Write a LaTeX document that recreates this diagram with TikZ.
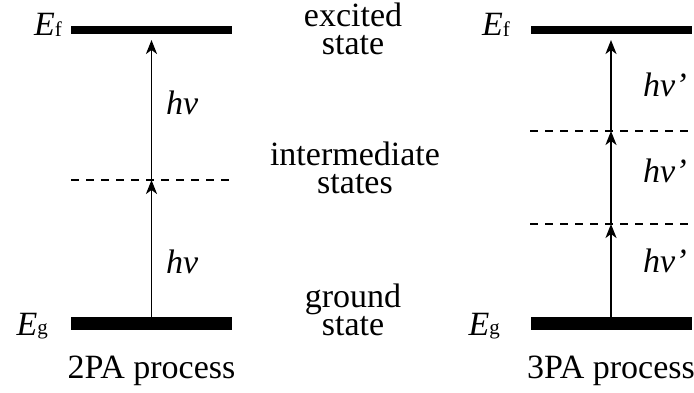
\documentclass[tikz,border=0pt]{standalone}
\usepackage{fontspec}
\setmainfont{Liberation Serif}
\usetikzlibrary{arrows.meta}
\newcommand\Elabel[2]{\textit{E}\raisebox{#2}{\fontsize{21}{21}\selectfont #1}}
\begin{document}
\begin{tikzpicture}[x=1pt,y=-1pt,
  txt/.style={inner sep=0pt, font=\fontsize{34}{28}\selectfont},
  topbar/.style={line width=8pt},
  gndbar/.style={line width=13pt},
  virt/.style={line width=1.4pt, dash pattern=on 8pt off 7pt},
  photon/.style={line width=1.7pt, -{Stealth[length=14pt,width=11pt,inset=4pt]}}]
\useasboundingbox (0,0) rectangle (694,393);
% ---- 2PA ----
\draw[topbar] (71,30) -- (232,30);
\draw[gndbar] (71,323.5) -- (232,323.5);
\draw[virt] (71,180) -- (230,180);
\coordinate (Lg) at (151.5,317);
\coordinate (Lm) at (151.5,180);
\coordinate (Lf) at (151.5,40);
\draw[photon] (Lg) -- (Lm);
\draw[photon] (Lm) -- (Lf);
\node[txt, anchor=base east] (LEf) at (62,36) {\Elabel{f}{-1pt}};
\node[txt, anchor=base east] (LEg) at (48,335) {\Elabel{g}{1pt}};
\node[txt, anchor=base west] (Lhv1) at (166,115) {\textit{hv}};
\node[txt, anchor=base west] (Lhv2) at (166,273) {\textit{hv}};
\node[txt, anchor=base] (L2PA) at (151.5,378) {2PA process};
% ---- middle ----
\node[txt, anchor=base] (exc) at (353,27) {\begin{tabular}[t]{@{}c@{}}excited\\state\end{tabular}};
\node[txt, anchor=base] (inter) at (355,166) {\begin{tabular}[t]{@{}c@{}}intermediate\\states\end{tabular}};
\node[txt, anchor=base] (gnd) at (353,307) {\begin{tabular}[t]{@{}c@{}}ground\\state\end{tabular}};
% ---- 3PA ----
\draw[topbar] (531,30) -- (692,30);
\draw[gndbar] (531,323.5) -- (692,323.5);
\draw[virt] (530,131) -- (690,131);
\draw[virt] (530,224) -- (690,224);
\coordinate (Rg) at (611,317);
\coordinate (Rm1) at (611,224);
\coordinate (Rm2) at (611,131);
\coordinate (Rf) at (611,40);
\draw[photon] (Rg) -- (Rm1);
\draw[photon] (Rm1) -- (Rm2);
\draw[photon] (Rm2) -- (Rf);
\node[txt, anchor=base east] (REf) at (510,36) {\Elabel{f}{-1pt}};
\node[txt, anchor=base east] (REg) at (500,335) {\Elabel{g}{1pt}};
\node[txt, anchor=base west] (Rhv1) at (643,97) {\textit{hv’}};
\node[txt, anchor=base west] (Rhv2) at (643,183) {\textit{hv’}};
\node[txt, anchor=base west] (Rhv3) at (643,272) {\textit{hv’}};
\node[txt, anchor=base] (R3PA) at (611,378) {3PA process};
\end{tikzpicture}
\end{document}
